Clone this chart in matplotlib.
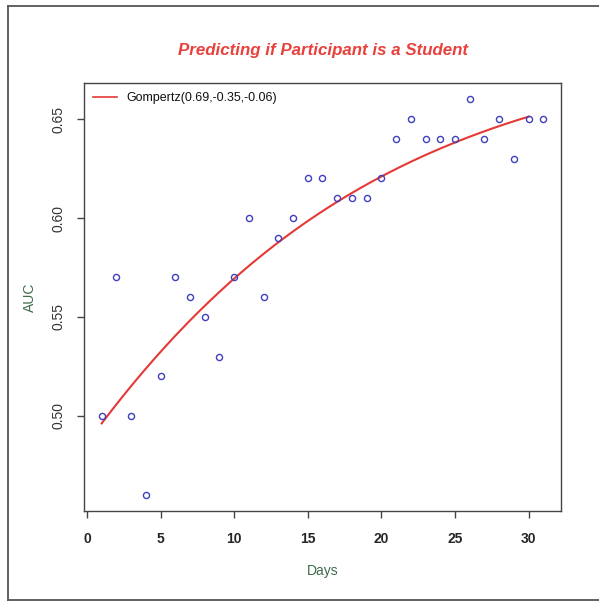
import numpy as np
import matplotlib.pyplot as plt
from matplotlib.lines import Line2D

plt.rcParams['font.family'] = ['Liberation Sans', 'DejaVu Sans']

# daily AUC of the student classifier
days = list(range(1, 32))
auc = [0.50, 0.57, 0.50, 0.46, 0.52, 0.57, 0.56, 0.55, 0.53, 0.57,
       0.60, 0.56, 0.59, 0.60, 0.62, 0.62, 0.61, 0.61, 0.61, 0.62,
       0.64, 0.65, 0.64, 0.64, 0.64, 0.66, 0.64, 0.65, 0.63, 0.65,
       0.65]

# fitted Gompertz parameters (a, b, c)
gomp = (0.69, -0.35, -0.06)
fit_days = (1, 30)

xticks = [0, 5, 10, 15, 20, 25, 30]
yticks = [0.50, 0.55, 0.60, 0.65]

W, H = 599, 601
fig = plt.figure(figsize=(W / 100, H / 100), dpi=100)
ax = fig.add_axes([84 / W, 1 - 511 / H, (561 - 84) / W, (511 - 83.4) / H])

edge = '#444444'
ax.plot(days, auc, 'o', mfc='none', mec='#4040bc', ms=4.4, mew=1.0, zorder=3)

xs = np.linspace(fit_days[0], fit_days[1], 200)
a, b, c = gomp
ax.plot(xs, a * np.exp(b * np.exp(c * xs)), color='#e53935', lw=1.5, zorder=2)

# R-style 4% padding around the data range
xr = max(days) - min(days)
yr = max(auc) - min(auc)
ax.set_xlim(min(days) - 0.04 * xr, max(days) + 0.04 * xr)
ax.set_ylim(min(auc) - 0.04 * yr, max(auc) + 0.04 * yr)

ax.set_xticks(xticks)
ax.set_xticklabels([str(t) for t in xticks], fontweight='bold')
ax.set_yticks(yticks)
ax.set_yticklabels([f'{t:.2f}' for t in yticks], rotation=90, va='center')
ax.tick_params(axis='x', length=5, width=1, color=edge, pad=10,
               labelsize=10, labelcolor='#262626')
ax.tick_params(axis='y', length=5, width=1, color=edge, pad=8,
               labelsize=10, labelcolor='#333333')
for s in ax.spines.values():
    s.set_color(edge)
    s.set_linewidth(1.0)

leg = ax.legend([Line2D([], [], color='#e53935', lw=1.2)],
                [f'Gompertz({a:.2f},{b:.2f},{c:.2f})'],
                loc='upper left', frameon=False, fontsize=9,
                handlelength=1.9, borderaxespad=0.3,
                bbox_to_anchor=(0.0, 1.0))
for t in leg.get_texts():
    t.set_color('#111111')

fig.text(322.5 / W, 1 - 51 / H, 'Predicting if Participant is a Student',
         ha='center', va='center', fontsize=12.2, fontweight='bold',
         fontstyle='italic', color='#e8413c')
fig.text(322.5 / W, 1 - 571 / H, 'Days', ha='center', va='center',
         fontsize=10, color='#3d6b4c')
fig.text(30 / W, 1 - 297 / H, 'AUC', ha='center', va='center',
         rotation=90, fontsize=10, color='#3d6b4c')

# outer frame
frame = dict(color='#555555', lw=1.3, transform=fig.transFigure)
fig.add_artist(Line2D([8 / W, 8 / W], [0, 1 - 6 / H], **frame))
fig.add_artist(Line2D([8 / W, 1], [1 - 6 / H, 1 - 6 / H], **frame))
fig.add_artist(Line2D([8 / W, 1], [1 / H, 1 / H], **frame))

fig.savefig('out.png', dpi=100)
